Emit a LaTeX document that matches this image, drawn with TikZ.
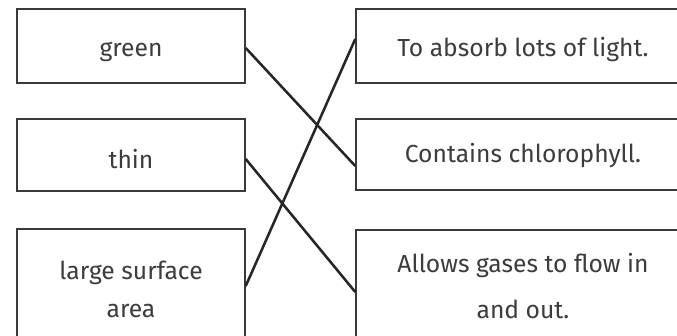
\documentclass[tikz,border=0pt]{standalone}
\usepackage{fontspec}
\setmainfont{Fira Sans}
\usetikzlibrary{calc}
\definecolor{boxline}{HTML}{3A3A3A}
\definecolor{txt}{HTML}{3C3C3C}
\definecolor{conn}{HTML}{262626}
\tikzset{
  card/.style={draw=boxline, line width=1.1pt, text=txt, align=center,
    font=\fontsize{18.5}{28.5}\selectfont, inner sep=0pt},
  leftcard/.style={card, minimum width=171pt},
  rightcard/.style={card, minimum width=250.5pt},
  drop/.style={text height=#1, text depth=0pt},
  link/.style={draw=conn, line width=1.9pt}
}
\begin{document}
\begin{tikzpicture}[x=0.75pt,y=-0.75pt]
\useasboundingbox (0,0) rectangle (677,335);
\clip (0,0) rectangle (677,335);
\fill[white] (0,0) rectangle (677,335);
% left column
\node[leftcard, drop=16.5pt, minimum height=55.5pt] (green) at (131,46) {green};
\node[leftcard, drop=19.5pt, minimum height=54pt] (thin) at (131,155) {thin};
\node[leftcard, minimum height=90pt] (large) at (131,289) {large surface\\area};
% right column
\node[rightcard, drop=16.5pt, minimum height=55.5pt] (absorb) at (523,46) {To absorb lots of light.};
\node[rightcard, drop=11.25pt, minimum height=53.25pt] (chloro) at (523,154.5) {Contains chlorophyll.};
\node[rightcard, font=\fontsize{18.5}{34.5}\selectfont, minimum height=84.75pt] (gases) at (523,286.5) {Allows gases to flow in\\and out.};
% connectors
\draw[link] ($(green.east)+(0,2)$) -- ($(chloro.west)+(0,11.5)$);
\draw[link] ($(thin.east)+(0,4)$) -- ($(gases.west)+(0,5.5)$);
\draw[link] ($(large.west -| large.east)+(0,-3)$) -- ($(absorb.west)+(0,-7)$);
\end{tikzpicture}
\end{document}
